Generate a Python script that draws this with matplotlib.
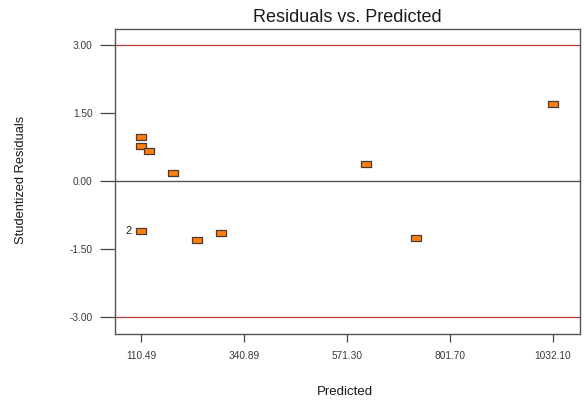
import matplotlib
matplotlib.use("Agg")
import matplotlib.pyplot as plt
from matplotlib.path import Path
import numpy as np

plt.rcParams['font.family'] = ['Liberation Sans', 'DejaVu Sans']

# Data
predicted = [110.49, 110.49, 110.49, 128.4, 181.4, 235.1, 288.8, 613.8, 725.0, 1032.1]
residuals = [0.96, 0.76, -1.10, 0.66, 0.17, -1.30, -1.15, 0.37, -1.26, 1.69]
x_ticks = [110.49, 340.89, 571.30, 801.70, 1032.10]
y_ticks = [-3.00, -1.50, 0.00, 1.50, 3.00]
limit_lines = [-3.0, 3.0]
dup_label = "2"
dup_index = 2

fig = plt.figure(figsize=(5.84, 4.0), dpi=100)
ax = fig.add_axes([0.1964, 0.165, 0.7968, 0.7625])

rect = Path([(-1, -0.62), (1, -0.62), (1, 0.62), (-1, 0.62), (-1, -0.62)],
            [Path.MOVETO, Path.LINETO, Path.LINETO, Path.LINETO, Path.CLOSEPOLY])

ax.axhline(0, color='#555555', lw=1.0, zorder=1)
for v in limit_lines:
    ax.axhline(v, color='#c0393b', lw=0.9, zorder=1)

ax.plot(predicted, residuals, linestyle='none', marker=rect, markersize=7.5,
        markerfacecolor='#ff7f0e', markeredgecolor='#4a3a30', markeredgewidth=0.9, zorder=3)

ax.annotate(dup_label, (predicted[dup_index], residuals[dup_index]),
            xytext=(-6.5, 0), textcoords='offset points', ha='right', va='center',
            fontsize=8, color='#222222')

ax.set_xlim(51.7, 1092.5)
ax.set_ylim(-3.38, 3.35)
ax.set_xticks(x_ticks)
ax.set_xticklabels([f"{v:.2f}" for v in x_ticks])
ax.set_yticks(y_ticks)
ax.set_yticklabels([f"{v:.2f}" for v in y_ticks])

ax.tick_params(axis='x', length=6, width=0.9, color='#444444', labelsize=7.3,
               labelcolor='#3a3a3a', pad=6)
ax.tick_params(axis='y', length=11, width=0.9, color='#444444', labelsize=7.3,
               labelcolor='#3a3a3a', pad=5)
for s in ax.spines.values():
    s.set_color('#555555')
    s.set_linewidth(1.0)

ax.set_title("Residuals vs. Predicted", fontsize=13, color='#1a1a1a', pad=5)
fig.text(345 / 584, 1 - 392 / 400, "Predicted", fontsize=9.5, color='#1a1a1a',
         ha='center', va='center')
fig.text(21 / 584, 1 - 180 / 400, "Studentized Residuals", fontsize=9.3, color='#1a1a1a',
         ha='center', va='center', rotation=90)

fig.savefig("out.png", dpi=100)
